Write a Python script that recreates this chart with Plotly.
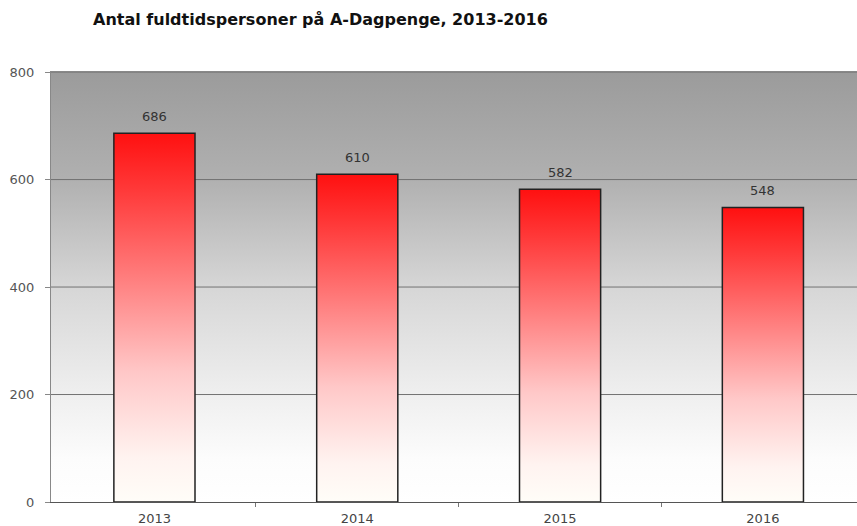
import plotly.graph_objects as go

years = ["2013", "2014", "2015", "2016"]
values = [686, 610, 582, 548]
y_ticks = [0, 200, 400, 600, 800]
title_text = "Antal fuldtidspersoner på A-Dagpenge, 2013-2016"

X_MIN, X_MAX = -0.51, 3.464
Y_MAX = 802
BAR_W = 0.4
FONT = "DejaVu Sans, Liberation Sans, Arial"

fig = go.Figure()

# gradient background of plot area
fig.add_trace(go.Scatter(
    x=[X_MIN, X_MAX, X_MAX, X_MIN, X_MIN],
    y=[0, 0, Y_MAX, Y_MAX, 0],
    mode="lines", line=dict(width=0), fill="toself",
    fillgradient=dict(type="vertical", colorscale=[
        [0.0, "#ffffff"], [0.1, "#fcfcfc"], [0.25, "#efefef"],
        [0.5, "#d6d6d6"], [0.75, "#b0b0b0"], [1.0, "#9b9b9b"]]),
    hoverinfo="skip", showlegend=False))

# grid lines
for v in y_ticks[1:]:
    fig.add_trace(go.Scatter(
        x=[X_MIN, X_MAX], y=[v, v], mode="lines",
        line=dict(color="#727272", width=1),
        hoverinfo="skip", showlegend=False))

# bars with vertical gradient
for i, v in enumerate(values):
    x0, x1 = i - BAR_W / 2, i + BAR_W / 2
    fig.add_trace(go.Scatter(
        x=[x0, x0, x1, x1, x0], y=[0, v, v, 0, 0],
        mode="lines", line=dict(color="#222222", width=1.5),
        fill="toself",
        fillgradient=dict(type="vertical", colorscale=[
            [0.0, "#fffdf8"], [0.12, "#fff3f0"], [0.35, "#ffc8c8"],
            [0.6, "#ff8080"], [0.85, "#ff3838"], [1.0, "#ff1010"]]),
        hoverinfo="skip", showlegend=False))

# value labels
for i, v in enumerate(values):
    fig.add_annotation(x=i, y=v, text=str(v), showarrow=False,
                       yanchor="middle", yshift=17,
                       font=dict(family=FONT, size=13, color="#333333"))

fig.update_layout(
    width=857, height=526,
    margin=dict(l=51, r=0, t=71, b=22),
    paper_bgcolor="white", plot_bgcolor="white",
    title=dict(text="<b>" + title_text + "</b>", xref="container", yref="container",
               x=93 / 857, xanchor="left", y=1 - 19 / 526, yanchor="middle",
               font=dict(family=FONT, size=16, color="#111111")),
    font=dict(family=FONT, size=13, color="#444444"),
    xaxis=dict(range=[X_MIN, X_MAX], tickvals=list(range(len(years))), ticktext=years,
               ticks="", showgrid=False, zeroline=False, ticklabelstandoff=4,
               showline=True, linecolor="#555555", linewidth=1,
               minor=dict(tickvals=[0.5, 1.5, 2.5], ticks="outside", ticklen=4,
                          tickcolor="#777777", showgrid=False),
               tickfont=dict(family=FONT, size=13, color="#444444")),
    yaxis=dict(range=[0, Y_MAX], tickvals=y_ticks, ticks="outside", ticklen=5,
               tickcolor="#888888", showgrid=False, zeroline=False,
               ticklabelstandoff=8,
               showline=True, linecolor="#888888", linewidth=1,
               tickfont=dict(family=FONT, size=13, color="#555555")),
)

fig.write_html("out.html", config={"displayModeBar": False},
               post_script="document.body.style.margin='0';")
